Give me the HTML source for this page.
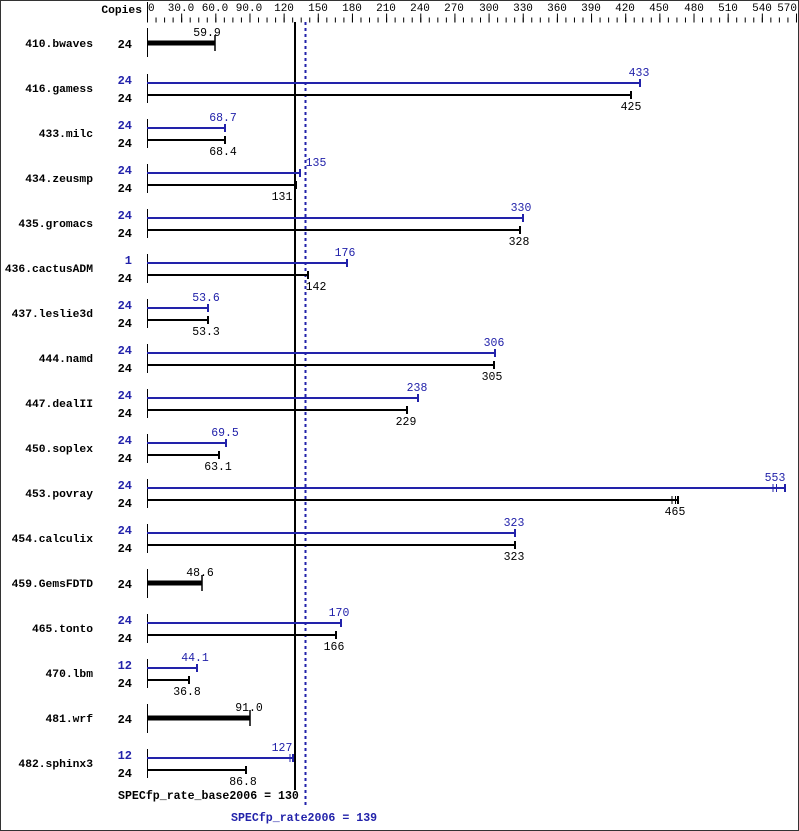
<!DOCTYPE html>
<html><head><meta charset="utf-8"><style>
html,body{margin:0;padding:0;background:#fff;}
svg{display:block;}
text{font-family:"Liberation Mono","DejaVu Sans Mono",monospace;}
.n{font-size:11.3px;font-weight:bold;fill:#000;text-anchor:end;}
.cb{font-size:12px;font-weight:bold;fill:#000;text-anchor:end;}
.cu{font-size:12px;font-weight:bold;fill:#2222aa;text-anchor:end;}
.vb{font-size:11.5px;fill:#000;text-anchor:middle;}
.vu{font-size:11.5px;fill:#2222aa;text-anchor:middle;}
.t{font-size:11px;fill:#000;text-anchor:middle;}
</style></head><body>
<svg width="799" height="831" viewBox="0 0 799 831" xmlns="http://www.w3.org/2000/svg">
<rect x="0.5" y="0.5" width="798" height="830" fill="#fff" stroke="#333" stroke-width="1"/>
<text x="142" y="13" class="n">Copies</text>
<line x1="147.5" y1="2" x2="147.5" y2="22" stroke="#000"/>
<line x1="147" y1="20" x2="800" y2="20" stroke="#000" stroke-width="5" stroke-dasharray="1 7.539"/>
<line x1="147" y1="18" x2="800" y2="18" stroke="#000" stroke-width="9" stroke-dasharray="1 33.158"/>
<g class="t">
<text x="148" y="11" style="text-anchor:start">0</text>
<text x="181" y="11">30.0</text><text x="215" y="11">60.0</text><text x="249" y="11">90.0</text>
<text x="284" y="11">120</text><text x="318" y="11">150</text><text x="352" y="11">180</text>
<text x="386" y="11">210</text><text x="420" y="11">240</text><text x="454" y="11">270</text>
<text x="489" y="11">300</text><text x="523" y="11">330</text><text x="557" y="11">360</text>
<text x="591" y="11">390</text><text x="625" y="11">420</text><text x="659" y="11">450</text>
<text x="694" y="11">480</text><text x="728" y="11">510</text><text x="762" y="11">540</text>
<text x="797" y="11" style="text-anchor:end">570</text>
</g>
<line x1="295" y1="22" x2="295" y2="790" stroke="#000" stroke-width="2"/>
<line x1="305.5" y1="22" x2="305.5" y2="808" stroke="#2222aa" stroke-width="2" stroke-dasharray="3 3"/>

<g stroke="#000" stroke-width="1">
<line x1="147.5" y1="28" x2="147.5" y2="57"/>
<line x1="147.5" y1="74" x2="147.5" y2="103"/>
<line x1="147.5" y1="119" x2="147.5" y2="148"/>
<line x1="147.5" y1="164" x2="147.5" y2="193"/>
<line x1="147.5" y1="209" x2="147.5" y2="238"/>
<line x1="147.5" y1="254" x2="147.5" y2="283"/>
<line x1="147.5" y1="299" x2="147.5" y2="328"/>
<line x1="147.5" y1="344" x2="147.5" y2="373"/>
<line x1="147.5" y1="389" x2="147.5" y2="418"/>
<line x1="147.5" y1="434" x2="147.5" y2="463"/>
<line x1="147.5" y1="479" x2="147.5" y2="508"/>
<line x1="147.5" y1="524" x2="147.5" y2="553"/>
<line x1="147.5" y1="569" x2="147.5" y2="598"/>
<line x1="147.5" y1="614" x2="147.5" y2="643"/>
<line x1="147.5" y1="659" x2="147.5" y2="688"/>
<line x1="147.5" y1="704" x2="147.5" y2="733"/>
<line x1="147.5" y1="749" x2="147.5" y2="778"/>
</g>

<g stroke-width="2">
<line x1="147" y1="43" x2="215" y2="43" stroke="#000" stroke-width="5"/><line x1="215" y1="35" x2="215" y2="51" stroke="#000" stroke-width="1.5"/>
<line x1="147" y1="83" x2="640" y2="83" stroke="#2222aa"/><line x1="640" y1="79" x2="640" y2="87" stroke="#2222aa"/>
<line x1="147" y1="95" x2="631" y2="95" stroke="#000"/><line x1="631" y1="91" x2="631" y2="99" stroke="#000"/>
<line x1="147" y1="128" x2="225" y2="128" stroke="#2222aa"/><line x1="225" y1="124" x2="225" y2="132" stroke="#2222aa"/>
<line x1="147" y1="140" x2="225" y2="140" stroke="#000"/><line x1="225" y1="136" x2="225" y2="144" stroke="#000"/>
<line x1="147" y1="173" x2="300" y2="173" stroke="#2222aa"/><line x1="300" y1="169" x2="300" y2="177" stroke="#2222aa"/>
<line x1="147" y1="185" x2="296" y2="185" stroke="#000"/><line x1="296" y1="181" x2="296" y2="189" stroke="#000"/>
<line x1="147" y1="218" x2="523" y2="218" stroke="#2222aa"/><line x1="523" y1="214" x2="523" y2="222" stroke="#2222aa"/>
<line x1="147" y1="230" x2="520" y2="230" stroke="#000"/><line x1="520" y1="226" x2="520" y2="234" stroke="#000"/>
<line x1="147" y1="263" x2="347" y2="263" stroke="#2222aa"/><line x1="347" y1="259" x2="347" y2="267" stroke="#2222aa"/>
<line x1="147" y1="275" x2="308" y2="275" stroke="#000"/><line x1="308" y1="271" x2="308" y2="279" stroke="#000"/>
<line x1="147" y1="308" x2="208" y2="308" stroke="#2222aa"/><line x1="208" y1="304" x2="208" y2="312" stroke="#2222aa"/>
<line x1="147" y1="320" x2="208" y2="320" stroke="#000"/><line x1="208" y1="316" x2="208" y2="324" stroke="#000"/>
<line x1="147" y1="353" x2="495" y2="353" stroke="#2222aa"/><line x1="495" y1="349" x2="495" y2="357" stroke="#2222aa"/>
<line x1="147" y1="365" x2="494" y2="365" stroke="#000"/><line x1="494" y1="361" x2="494" y2="369" stroke="#000"/>
<line x1="147" y1="398" x2="418" y2="398" stroke="#2222aa"/><line x1="418" y1="394" x2="418" y2="402" stroke="#2222aa"/>
<line x1="147" y1="410" x2="407" y2="410" stroke="#000"/><line x1="407" y1="406" x2="407" y2="414" stroke="#000"/>
<line x1="147" y1="443" x2="226" y2="443" stroke="#2222aa"/><line x1="226" y1="439" x2="226" y2="447" stroke="#2222aa"/>
<line x1="147" y1="455" x2="219" y2="455" stroke="#000"/><line x1="219" y1="451" x2="219" y2="459" stroke="#000"/>
<line x1="147" y1="488" x2="785" y2="488" stroke="#2222aa"/><line x1="773" y1="484" x2="773" y2="492" stroke="#2222aa" stroke-width="1"/><line x1="776.5" y1="484" x2="776.5" y2="492" stroke="#2222aa" stroke-width="1"/><line x1="785" y1="484" x2="785" y2="492" stroke="#2222aa"/>
<line x1="147" y1="500" x2="678" y2="500" stroke="#000"/><line x1="672" y1="496" x2="672" y2="504" stroke="#000" stroke-width="1"/><line x1="675.5" y1="496" x2="675.5" y2="504" stroke="#000" stroke-width="1"/><line x1="678" y1="496" x2="678" y2="504" stroke="#000"/>
<line x1="147" y1="533" x2="515" y2="533" stroke="#2222aa"/><line x1="515" y1="529" x2="515" y2="537" stroke="#2222aa"/>
<line x1="147" y1="545" x2="515" y2="545" stroke="#000"/><line x1="515" y1="541" x2="515" y2="549" stroke="#000"/>
<line x1="147" y1="583" x2="202" y2="583" stroke="#000" stroke-width="5"/><line x1="202" y1="575" x2="202" y2="591" stroke="#000" stroke-width="1.5"/>
<line x1="147" y1="623" x2="341" y2="623" stroke="#2222aa"/><line x1="341" y1="619" x2="341" y2="627" stroke="#2222aa"/>
<line x1="147" y1="635" x2="336" y2="635" stroke="#000"/><line x1="336" y1="631" x2="336" y2="639" stroke="#000"/>
<line x1="147" y1="668" x2="197" y2="668" stroke="#2222aa"/><line x1="197" y1="664" x2="197" y2="672" stroke="#2222aa"/>
<line x1="147" y1="680" x2="189" y2="680" stroke="#000"/><line x1="189" y1="676" x2="189" y2="684" stroke="#000"/>
<line x1="147" y1="718" x2="250" y2="718" stroke="#000" stroke-width="5"/><line x1="250" y1="710" x2="250" y2="726" stroke="#000" stroke-width="1.5"/>
<line x1="147" y1="758" x2="293" y2="758" stroke="#2222aa"/><line x1="290" y1="754" x2="290" y2="762" stroke="#2222aa" stroke-width="1"/><line x1="293" y1="754" x2="293" y2="762" stroke="#2222aa"/>
<line x1="147" y1="770" x2="246" y2="770" stroke="#000"/><line x1="246" y1="766" x2="246" y2="774" stroke="#000"/>
</g>

<g class="n">
<text x="93" y="47">410.bwaves</text>
<text x="93" y="92">416.gamess</text>
<text x="93" y="137">433.milc</text>
<text x="93" y="182">434.zeusmp</text>
<text x="93" y="227">435.gromacs</text>
<text x="93" y="272">436.cactusADM</text>
<text x="93" y="317">437.leslie3d</text>
<text x="93" y="362">444.namd</text>
<text x="93" y="407">447.dealII</text>
<text x="93" y="452">450.soplex</text>
<text x="93" y="497">453.povray</text>
<text x="93" y="542">454.calculix</text>
<text x="93" y="587">459.GemsFDTD</text>
<text x="93" y="632">465.tonto</text>
<text x="93" y="677">470.lbm</text>
<text x="93" y="722">481.wrf</text>
<text x="93" y="767">482.sphinx3</text>
</g>
<g class="cb">
<text x="132" y="48">24</text>
<text x="132" y="102">24</text><text x="132" y="147">24</text><text x="132" y="192">24</text>
<text x="132" y="237">24</text><text x="132" y="282">24</text><text x="132" y="327">24</text>
<text x="132" y="372">24</text><text x="132" y="417">24</text><text x="132" y="462">24</text>
<text x="132" y="507">24</text><text x="132" y="552">24</text><text x="132" y="588">24</text>
<text x="132" y="642">24</text><text x="132" y="687">24</text><text x="132" y="723">24</text>
<text x="132" y="777">24</text>
</g>
<g class="cu">
<text x="132" y="84">24</text><text x="132" y="129">24</text><text x="132" y="174">24</text>
<text x="132" y="219">24</text><text x="132" y="264">1</text><text x="132" y="309">24</text>
<text x="132" y="354">24</text><text x="132" y="399">24</text><text x="132" y="444">24</text>
<text x="132" y="489">24</text><text x="132" y="534">24</text><text x="132" y="624">24</text>
<text x="132" y="669">12</text><text x="132" y="759">12</text>
</g>
<g class="vb">
<text x="207" y="36">59.9</text>
<text x="631" y="110">425</text>
<text x="223" y="155">68.4</text>
<text x="282" y="200">131</text>
<text x="519" y="245">328</text>
<text x="316" y="290">142</text>
<text x="206" y="335">53.3</text>
<text x="492" y="380">305</text>
<text x="406" y="425">229</text>
<text x="218" y="470">63.1</text>
<text x="675" y="515">465</text>
<text x="514" y="560">323</text>
<text x="200" y="576">48.6</text>
<text x="334" y="650">166</text>
<text x="187" y="695">36.8</text>
<text x="249" y="711">91.0</text>
<text x="243" y="785">86.8</text>
</g>
<g class="vu">
<text x="639" y="76">433</text>
<text x="223" y="121">68.7</text>
<text x="316" y="166">135</text>
<text x="521" y="211">330</text>
<text x="345" y="256">176</text>
<text x="206" y="301">53.6</text>
<text x="494" y="346">306</text>
<text x="417" y="391">238</text>
<text x="225" y="436">69.5</text>
<text x="775" y="481">553</text>
<text x="514" y="526">323</text>
<text x="339" y="616">170</text>
<text x="195" y="661">44.1</text>
<text x="282" y="751">127</text>
</g>
<text x="118" y="799" style="font-size:11.6px;font-weight:bold;fill:#000">SPECfp_rate_base2006 = 130</text>
<text x="231" y="821" style="font-size:11.6px;font-weight:bold;fill:#2222aa">SPECfp_rate2006 = 139</text>
</svg>
</body></html>
